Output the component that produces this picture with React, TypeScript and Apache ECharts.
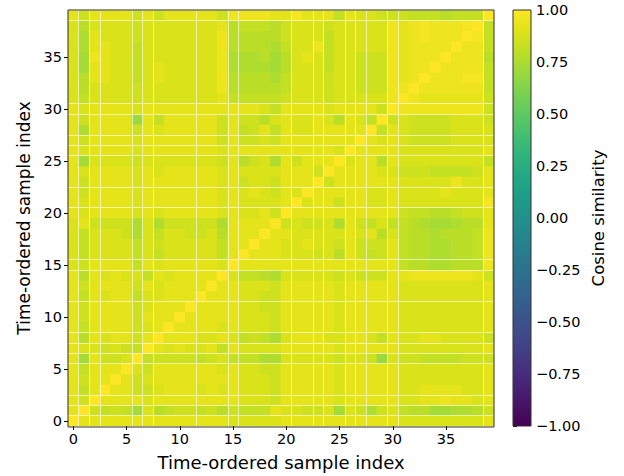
import React, { useEffect, useRef } from "react";
import * as echarts from "echarts";

// sample indices (categories on both axes)
const sampleIndex: string[] = Array.from({ length: 40 }, (_, i) => String(i));
const tickLabels = ["0", "5", "10", "15", "20", "25", "30", "35"];

// similarity levels (digit code -> cosine similarity)
const LEVELS = [0.7, 0.73, 0.76, 0.79, 0.82, 0.85, 0.885, 0.92, 0.95, 0.975];
const DIAGONAL = 1.0;

// lower triangle of the symmetric similarity matrix: row i, columns 0..i-1 (digit codes)
const lowerRows: string[] = [
  "",
  "7",
  "75",
  "747",
  "7577",
  "74777",
  "717556",
  "7665654",
  "73767757",
  "747777567",
  "7577775777",
  "75777756777",
  "747677466777",
  "7577775767777",
  "73767664767777",
  "657777476777776",
  "6466664646666647",
  "64666646566666477",
  "646665264665563777",
  "6755552625555527777",
  "76777767677777676675",
  "767777677777776766667",
  "7577776777777767676576",
  "75777767777777675665777",
  "767777676777776766667775",
  "7166665666666657356275777",
  "76777767777777677777777776",
  "757777677777775755657777777",
  "7277775767777757457476677777",
  "75777707477777575536766763764",
  "767777677777777777647777677775",
  "6466665666666674444456665666668",
  "63666656666666833333466656655588",
  "637766467666668333324666566555878",
  "6177664676666682222136664665558788",
  "61876646666666822231367646655587888",
  "627766466666668333324668466666878888",
  "6276665666666683333356664666668789888",
  "63666656666666734443566656666687898889",
  "757777575777775888877977747665554443444",
];

// boundaries where the reference shows light seams
const vSeams = [1, 2, 3, 6, 7, 8, 12, 15, 16, 21, 23, 24, 26, 27, 28, 30, 31, 39];
const hSeams = [1, 2, 3, 6, 7, 8, 9, 12, 15, 16, 21, 23, 26, 27, 28, 30, 31, 39];

const VIRIDIS = [
  "#440154", "#471365", "#482475", "#463480", "#414487", "#3b528b", "#355f8d",
  "#2f6c8e", "#2a788e", "#25848e", "#21918c", "#1e9c89", "#22a884", "#2fb47c",
  "#44bf70", "#5ec962", "#7ad151", "#9bd93c", "#bddf26", "#dfe318", "#fde725",
];

const FONT = "DejaVu Sans";

function buildData(): [number, number, number][] {
  const out: [number, number, number][] = [];
  lowerRows.forEach((row, i) => {
    for (let j = 0; j < Math.min(row.length, i); j++) {
      const v = LEVELS[Number(row[j])];
      out.push([j, i, v]);
      out.push([i, j, v]);
    }
    out.push([i, i, DIAGONAL]);
  });
  return out;
}

export default function App() {
  const ref = useRef<HTMLDivElement>(null);
  useEffect(() => {
    const chart = echarts.init(ref.current!, null, { renderer: "svg" });
    const G = { left: 68, top: 10, width: 426, height: 417 };
    const CB = { left: 513, top: 10, width: 18, height: 416 };
    const tickSet = new Set(tickLabels);
    const vSet = new Set(vSeams);
    const hSet = new Set(hSeams);
    const showTick = (_i: number, v: string) => tickSet.has(v);
    const minus = (v: number) => v.toFixed(2).replace("-", "\u2212");

    const option: any = {
      animation: false,
      backgroundColor: "#ffffff",
      textStyle: { fontFamily: FONT },
      grid: [
        { ...G, show: true, backgroundColor: "#e2e418", borderWidth: 0 },
        { ...CB },
      ],
      xAxis: [
        {
          type: "category",
          gridIndex: 0,
          data: sampleIndex,
          z: 10,
          axisLine: { show: false },
          axisTick: { show: true, alignWithLabel: true, interval: showTick, length: 4, lineStyle: { color: "#000" } },
          axisLabel: { interval: showTick, color: "#000", fontSize: 14.5, fontFamily: FONT, margin: 5 },
          splitLine: { show: true, interval: (i: number) => vSet.has(i), lineStyle: { color: "rgba(255,255,255,0.6)", width: 1 } },
          name: "Time-ordered sample index",
          nameLocation: "middle",
          nameGap: 27,
          nameTextStyle: { fontSize: 18, color: "#000", fontFamily: FONT },
        },
        { type: "value", gridIndex: 1, show: false, min: 0, max: 1 },
      ],
      yAxis: [
        {
          type: "category",
          gridIndex: 0,
          data: sampleIndex,
          z: 10,
          axisLine: { show: false },
          axisTick: { show: true, alignWithLabel: true, interval: showTick, length: 4, lineStyle: { color: "#000" } },
          axisLabel: { interval: showTick, color: "#000", fontSize: 14.5, fontFamily: FONT, margin: 6 },
          splitLine: { show: true, interval: (i: number) => hSet.has(i), lineStyle: { color: "rgba(255,255,255,0.6)", width: 1 } },
          name: "Time-ordered sample index",
          nameLocation: "middle",
          nameGap: 36,
          nameRotate: 90,
          nameTextStyle: { fontSize: 17, color: "#000", fontFamily: FONT },
        },
        {
          type: "value",
          gridIndex: 1,
          position: "right",
          min: -1,
          max: 1,
          interval: 0.25,
          z: 10,
          axisLine: { show: false },
          axisTick: { show: true, length: 4, lineStyle: { color: "#000" } },
          axisLabel: { color: "#000", fontSize: 14.5, fontFamily: FONT, margin: 5, formatter: minus },
          splitLine: { show: false },
          name: "Cosine similarity",
          nameLocation: "middle",
          nameGap: 59,
          nameRotate: 90,
          nameTextStyle: { fontSize: 16.5, color: "#000", fontFamily: FONT },
        },
      ],
      visualMap: {
        show: false,
        type: "continuous",
        min: -1,
        max: 1,
        dimension: 2,
        seriesIndex: 0,
        inRange: { color: VIRIDIS },
      },
      series: [
        {
          type: "heatmap",
          xAxisIndex: 0,
          yAxisIndex: 0,
          data: buildData(),
          itemStyle: { borderWidth: 0 },
          emphasis: { disabled: true },
          silent: true,
        },
      ],
      graphic: [
        {
          type: "rect",
          z: 100,
          shape: { x: G.left, y: G.top, width: G.width, height: G.height },
          style: { fill: "none", stroke: "#333", lineWidth: 1 },
          silent: true,
        },
        {
          type: "rect",
          z: 50,
          shape: { x: CB.left, y: CB.top, width: CB.width, height: CB.height },
          style: {
            fill: new echarts.graphic.LinearGradient(
              0, 0, 0, 1,
              VIRIDIS.slice().reverse().map((c, k) => ({ offset: k / (VIRIDIS.length - 1), color: c }))
            ),
            stroke: "#333",
            lineWidth: 1,
          },
          silent: true,
        },
      ],
    };
    chart.setOption(option);
    return () => chart.dispose();
  }, []);
  return <div ref={ref} style={{ position: "absolute", left: 0, top: 0, width: 624, height: 476 }} />;
}
